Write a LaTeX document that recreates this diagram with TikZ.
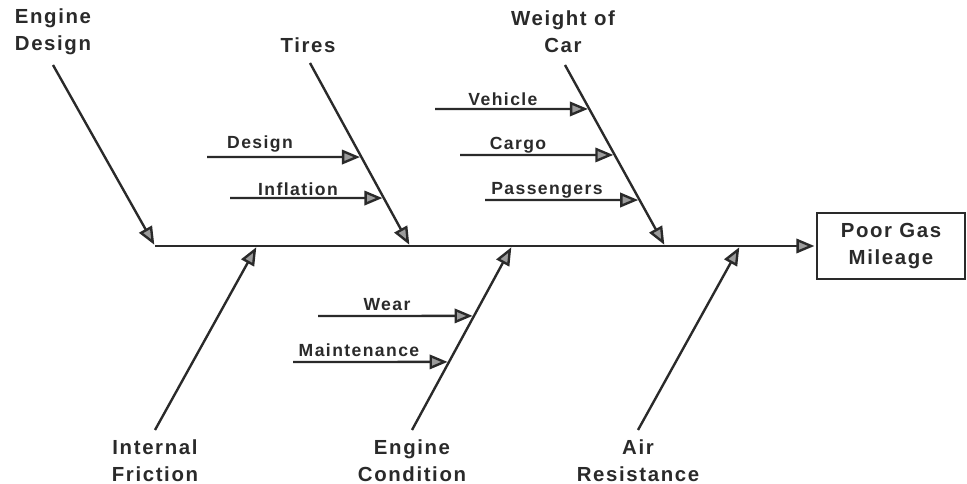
\documentclass[tikz,border=0pt]{standalone}
\usepackage{fontspec}
\setmainfont{Liberation Sans}[LetterSpace=8]
\usepackage{tikz}
\usetikzlibrary{arrows.meta,calc}
\definecolor{ink}{HTML}{2A2A2A}
\definecolor{headfill}{HTML}{9C9C9C}

\begin{document}
\begin{tikzpicture}[x=0.025cm,y=-0.025cm,color=ink,line width=1.7pt,
    >={Triangle[length=0.45cm,width=0.36cm,fill=headfill]},shorten >=1pt]
    \tikzstyle{cause}=[font=\bfseries\fontsize{14.5}{19}\selectfont, align=center, inner sep=0pt]
    \tikzstyle{sub}=[font=\bfseries\fontsize{12.5}{14}\selectfont, inner sep=0pt]
    \useasboundingbox (0,0) rectangle (967,484);

    % effect and spine
    \node [draw, minimum width=3.7cm, minimum height=1.65cm, cause] (effect) at (891,246) {Poor Gas\\ Mileage};
    \coordinate (spine) at (155,246);
    \draw [->] (spine) -- (effect.west);

    % causes above the spine
    \node [cause] (engdes) at (53,32) {Engine\\ Design};
    \node [cause] (tires) at (308,45) {Tires};
    \node [cause] (weight) at (563,32) {Weight of\\ Car};
    \coordinate (engdesTop) at (53,65);
    \coordinate (tiresTop) at (310,63);
    \coordinate (weightTop) at (565,65);
    \coordinate (tiresEnd) at (410,246);
    \coordinate (weightEnd) at (665,246);
    \draw [->] (engdesTop) -- (spine);
    \draw [->] (tiresTop) -- (tiresEnd);
    \draw [->] (weightTop) -- (weightEnd);

    % causes below the spine
    \node [cause] (friction) at (155,461) {Internal\\ Friction};
    \node [cause] (condition) at (412,461) {Engine\\ Condition};
    \node [cause] (air) at (638,461) {Air\\ Resistance};
    \coordinate (frictionLow) at (155,430);
    \coordinate (conditionLow) at (412,430);
    \coordinate (airLow) at (638,430);
    \coordinate (frictionEnd) at (257,246);
    \coordinate (conditionEnd) at (512,246);
    \coordinate (airEnd) at (740,246);
    \draw [->] (frictionLow) -- (frictionEnd);
    \draw [->] (conditionLow) -- (conditionEnd);
    \draw [->] (airLow) -- (airEnd);

    % sub causes
    \node [sub] (design) at (260,144) {Design};
    \node [sub] (inflation) at (298,189) {Inflation};
    \node [sub] (vehicle) at (503,99) {Vehicle};
    \node [sub] (cargo) at (518,145) {Cargo};
    \node [sub] (passengers) at (547,190) {Passengers};
    \node [sub] (wear) at (387,305) {Wear};
    \node [sub] (maint) at (359,350) {Maintenance};

    \coordinate (designL) at (207,157);
    \coordinate (inflationL) at (230,198);
    \coordinate (vehicleL) at (435,109);
    \coordinate (cargoL) at (460,155);
    \coordinate (passengersL) at (485,200);
    \coordinate (wearL) at (318,316);
    \coordinate (maintL) at (293,362);
    \draw [->] (designL) -- ($(tiresTop)!0.514!(tiresEnd)$);
    \draw [->] (inflationL) -- ($(tiresTop)!0.738!(tiresEnd)$);
    \draw [->] (vehicleL) -- ($(weightTop)!0.243!(weightEnd)$);
    \draw [->] (cargoL) -- ($(weightTop)!0.497!(weightEnd)$);
    \draw [->] (passengersL) -- ($(weightTop)!0.746!(weightEnd)$);
    \draw [->] (wearL) -- ($(conditionLow)!0.62!(conditionEnd)$);
    \draw [->] (maintL) -- ($(conditionLow)!0.37!(conditionEnd)$);
\end{tikzpicture}
\end{document}
